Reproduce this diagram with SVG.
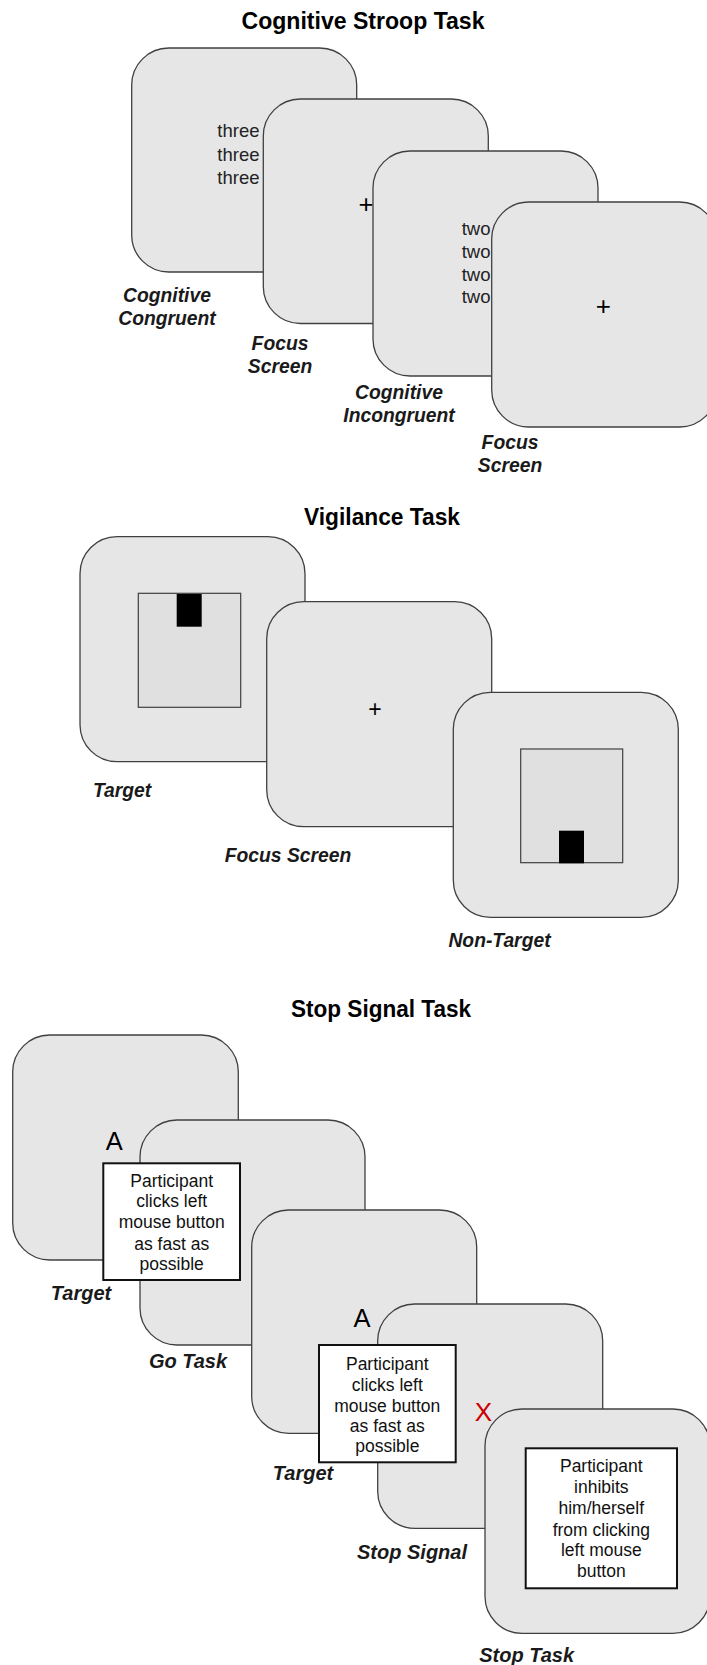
<svg xmlns="http://www.w3.org/2000/svg" width="707" height="1665" viewBox="0 0 707 1665">
<defs>
<style>
.bg{fill:#ffffff}
.card{fill:#e7e6e6;stroke:#404040;stroke-width:1.3}
.inner{fill:#e0e0e0;stroke:#404040;stroke-width:1.2}
.blk{fill:#000000}
.wbox{fill:#ffffff;stroke:#111111;stroke-width:2}
.title{font-family:"Liberation Sans",Arial,sans-serif;font-weight:bold;font-size:23px;fill:#000;text-anchor:middle}
.lbl{font-family:"Liberation Sans",Arial,sans-serif;font-weight:bold;font-style:italic;font-size:19.3px;fill:#1a1a1a;text-anchor:middle}
.lbl2{font-family:"Liberation Sans",Arial,sans-serif;font-weight:bold;font-style:italic;font-size:20px;fill:#1a1a1a;text-anchor:middle}
.word{font-family:"Liberation Sans",Arial,sans-serif;font-size:18.5px;fill:#222}
.plus{font-family:"Liberation Sans",Arial,sans-serif;font-size:26px;fill:#000;text-anchor:middle}
.plus2{font-family:"Liberation Sans",Arial,sans-serif;font-size:23px;fill:#000;text-anchor:middle}
.big{font-family:"Liberation Sans",Arial,sans-serif;font-size:25.5px;fill:#000;text-anchor:middle}
.red{font-family:"Liberation Sans",Arial,sans-serif;font-size:26px;fill:#cc0000;text-anchor:middle}
.box{font-family:"Liberation Sans",Arial,sans-serif;font-size:17.5px;fill:#111;text-anchor:middle}
</style>
</defs>
<rect class="bg" x="0" y="0" width="707" height="1665"/>

<!-- Cognitive Stroop Task -->
<text class="title" x="363" y="28.5" textLength="243" lengthAdjust="spacingAndGlyphs">Cognitive Stroop Task</text>
<g id="stroop-congruent">
<rect class="card" x="131.7" y="48" width="225" height="224" rx="37" ry="37"/>
<text class="word" x="217.3" y="137.3">three</text>
<text class="word" x="217.3" y="160.5">three</text>
<text class="word" x="217.3" y="183.5">three</text>
<text class="lbl" x="167" y="301.7">Cognitive</text>
<text class="lbl" x="167" y="325">Congruent</text>
</g>
<g id="stroop-focus1">
<rect class="card" x="263.3" y="99" width="225" height="224.5" rx="37" ry="37"/>
<text class="plus" x="366" y="213.4">+</text>
<text class="lbl" x="280" y="350">Focus</text>
<text class="lbl" x="280" y="373.3">Screen</text>
</g>
<g id="stroop-incongruent">
<rect class="card" x="373" y="151" width="225" height="225" rx="37" ry="37"/>
<text class="word" x="461.7" y="235">two</text>
<text class="word" x="461.7" y="257.7">two</text>
<text class="word" x="461.7" y="280.7">two</text>
<text class="word" x="461.7" y="303.3">two</text>
<text class="lbl" x="399" y="399.3">Cognitive</text>
<text class="lbl" x="399" y="422.3">Incongruent</text>
</g>
<g id="stroop-focus2">
<rect class="card" x="491.7" y="202" width="225" height="225" rx="37" ry="37"/>
<text class="plus" x="603.3" y="315.4">+</text>
<text class="lbl" x="510" y="449">Focus</text>
<text class="lbl" x="510" y="472.3">Screen</text>
</g>

<!-- Vigilance Task -->
<text class="title" x="382" y="525" textLength="156" lengthAdjust="spacingAndGlyphs">Vigilance Task</text>
<g id="vig-target">
<rect class="card" x="80" y="536.7" width="225" height="225" rx="37" ry="37"/>
<rect class="inner" x="138.3" y="593.3" width="102.4" height="114"/>
<rect class="blk" x="176.7" y="594" width="25" height="32.7"/>
<text class="lbl" x="122" y="796.7">Target</text>
</g>
<g id="vig-focus">
<rect class="card" x="266.7" y="601.7" width="225" height="225" rx="37" ry="37"/>
<text class="plus2" x="375" y="717.3">+</text>
<text class="lbl" x="288" y="861.5">Focus Screen</text>
</g>
<g id="vig-nontarget">
<rect class="card" x="453.3" y="692.3" width="225" height="225" rx="37" ry="37"/>
<rect class="inner" x="520.7" y="749" width="102" height="113.7"/>
<rect class="blk" x="559" y="830.7" width="25" height="32.6"/>
<text class="lbl" x="499.5" y="946.7">Non-Target</text>
</g>

<!-- Stop Signal Task -->
<text class="title" x="381" y="1017" textLength="180" lengthAdjust="spacingAndGlyphs">Stop Signal Task</text>
<g id="stop-target1">
<rect class="card" x="12.7" y="1035" width="225.6" height="225" rx="37" ry="37"/>
<text class="big" x="114.2" y="1150">A</text>
<text class="lbl2" x="81" y="1300">Target</text>
</g>
<g id="stop-go">
<rect class="card" x="140" y="1120" width="225" height="225" rx="37" ry="37"/>
<text class="lbl2" x="188" y="1367.8">Go Task</text>
</g>
<g id="stop-go-box">
<rect class="wbox" x="103.3" y="1163.3" width="136.7" height="116.7"/>
<text class="box" x="171.7" y="1186.7">Participant</text>
<text class="box" x="171.7" y="1207.3">clicks left</text>
<text class="box" x="171.7" y="1228.3">mouse button</text>
<text class="box" x="171.7" y="1250">as fast as</text>
<text class="box" x="171.7" y="1270">possible</text>
</g>
<g id="stop-target2">
<rect class="card" x="251.7" y="1210" width="225" height="223.3" rx="37" ry="37"/>
<text class="big" x="362" y="1326.7">A</text>
<text class="lbl2" x="303" y="1480">Target</text>
</g>
<g id="stop-signal">
<rect class="card" x="377.7" y="1304" width="225" height="224.3" rx="37" ry="37"/>
<text class="lbl2" x="412" y="1558.6">Stop Signal</text>
</g>
<g id="stop-signal-box">
<rect class="wbox" x="319" y="1345" width="136.7" height="117.3"/>
<text class="box" x="387.3" y="1370">Participant</text>
<text class="box" x="387.3" y="1390.5">clicks left</text>
<text class="box" x="387.3" y="1411.7">mouse button</text>
<text class="box" x="387.3" y="1432.3">as fast as</text>
<text class="box" x="387.3" y="1452.3">possible</text>
</g>
<g id="stop-task">
<rect class="card" x="485" y="1409" width="225" height="224.3" rx="37" ry="37"/>
<rect class="wbox" x="525.7" y="1448.3" width="151.3" height="140"/>
<text class="box" x="601.3" y="1472.3">Participant</text>
<text class="box" x="601.3" y="1493.3">inhibits</text>
<text class="box" x="601.3" y="1514">him/herself</text>
<text class="box" x="601.3" y="1535.7">from clicking</text>
<text class="box" x="601.3" y="1556">left mouse</text>
<text class="box" x="601.3" y="1576.7">button</text>
<text class="lbl2" x="526.7" y="1661.7">Stop Task</text>
</g>
<text id="stop-x" class="red" x="483.3" y="1420.7">X</text>
</svg>
